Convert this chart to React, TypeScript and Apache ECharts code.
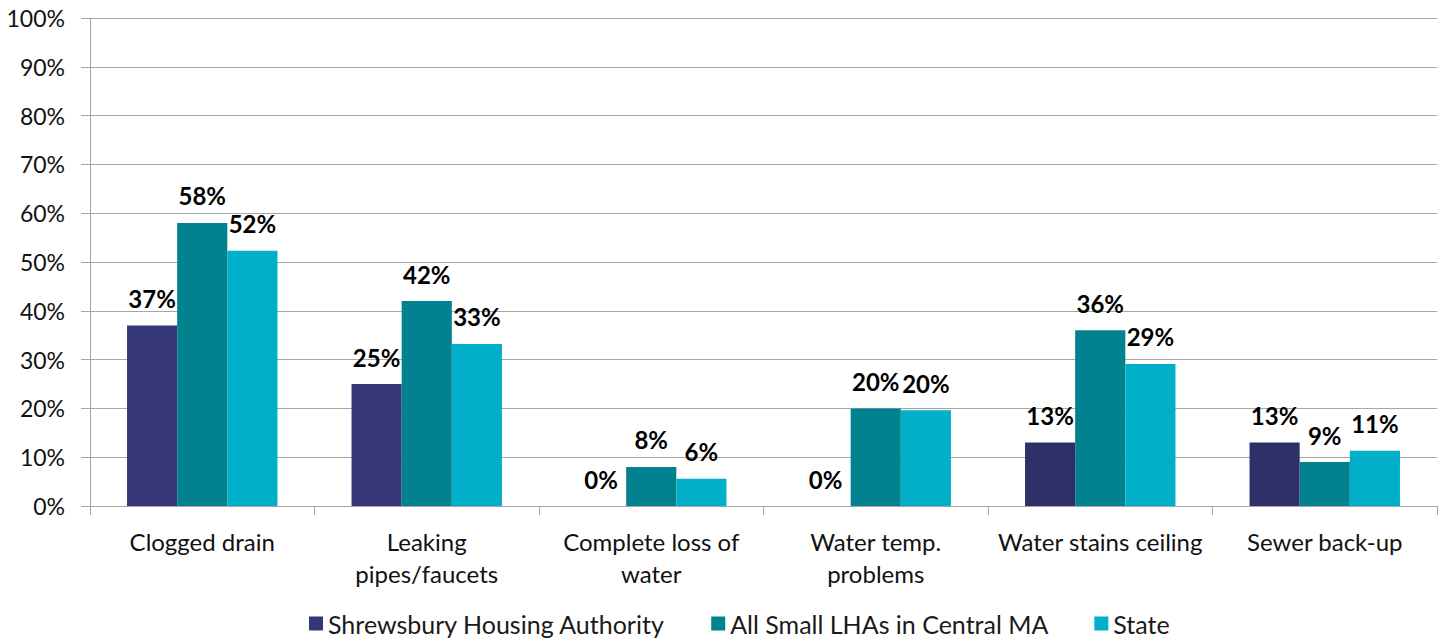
import React, { useEffect, useRef } from "react";
import * as echarts from "echarts";

const categories = [
  "Clogged drain",
  "Leaking\npipes/faucets",
  "Complete loss of\nwater",
  "Water temp.\nproblems",
  "Water stains ceiling",
  "Sewer back-up",
];
const seriesNames = ["Shrewsbury Housing Authority", "All Small LHAs in Central MA", "State"];
const shrewsbury = [37, 25, 0, 0, 13, 13];
const allSmall = [58, 42, 8, 20, 36, 9];
const state = [52.3, 33.2, 5.6, 19.6, 29.1, 11.3];
const colors = ["#363777", "#02818E", "#02AFC8"];
const shrewsburyColors = ["#363777", "#363777", "#363777", "#363777", "#2F3068", "#2F3068"];

const FONT = "Lato, 'Noto Sans', sans-serif";

export default function App() {
  const ref = useRef<HTMLDivElement>(null);
  useEffect(() => {
    if (!ref.current) return;
    const chart = echarts.init(ref.current, undefined, { renderer: "svg" });
    const data = [shrewsbury, allSmall, state];
    chart.setOption({
      animation: false,
      textStyle: { fontFamily: FONT },
      grid: { left: 90, right: 8, top: 18, bottom: 136, containLabel: false },
      legend: {
        bottom: 1,
        left: 304,
        itemWidth: 14,
        itemHeight: 14,
        itemGap: 46,
        icon: "rect",
        textStyle: { fontSize: 25, color: "#1a1a1a", fontFamily: FONT },
        data: seriesNames,
      },
      xAxis: {
        type: "category",
        data: categories,
        axisLine: { lineStyle: { color: "#a6a6a6", width: 1 } },
        axisTick: { show: true, length: 9, lineStyle: { color: "#a6a6a6" } },
        axisLabel: {
          fontSize: 24,
          color: "#111",
          margin: 19,
          lineHeight: 32,
          interval: 0,
          fontFamily: FONT,
        },
      },
      yAxis: {
        type: "value",
        min: 0,
        max: 100,
        interval: 10,
        axisLine: { show: true, lineStyle: { color: "#a6a6a6" } },
        axisTick: { show: true, length: 9, lineStyle: { color: "#a6a6a6" } },
        splitLine: { lineStyle: { color: "#a6a6a6", width: 1 } },
        axisLabel: {
          fontSize: 23,
          color: "#111",
          margin: 25,
          fontFamily: FONT,
          formatter: (v: number) => v + "%",
        },
      },
      series: seriesNames.map((name, i) => ({
        name,
        type: "bar",
        data: data[i].map((v, j) =>
          i === 0 ? { value: v, itemStyle: { color: shrewsburyColors[j] } } : v
        ),
        barGap: "0%",
        barCategoryGap: "33%",
        itemStyle: { color: colors[i] },
        label: {
          show: true,
          position: "top",
          distance: 15,
          fontSize: 24,
          fontWeight: "bold",
          color: "#000",
          fontFamily: FONT,
          formatter: (p: any) => Math.round(p.value) + "%",
        },
      })),
    });
    return () => chart.dispose();
  }, []);
  return (
    <div
      ref={ref}
      style={{ position: "absolute", left: 0, top: 0, width: 1445, height: 642 }}
    />
  );
}
